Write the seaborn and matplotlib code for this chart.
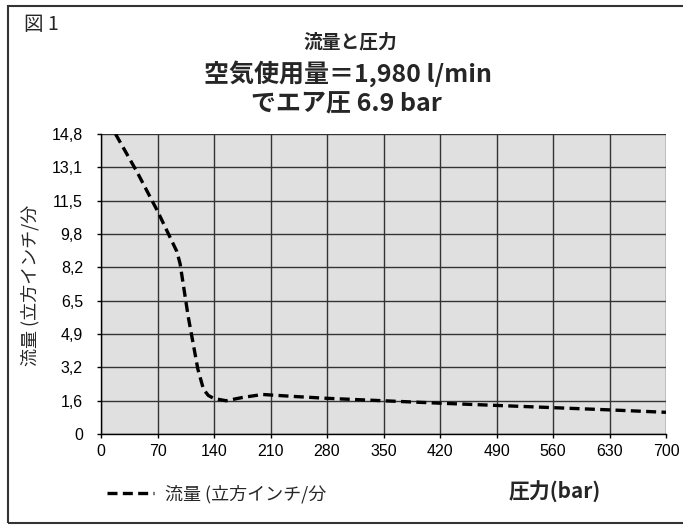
import matplotlib
matplotlib.use("Agg")
import matplotlib.pyplot as plt
import seaborn as sns
import pandas as pd
import numpy as np
from matplotlib.patches import Rectangle

# Data
pressure = [18, 45, 70, 94, 98, 108, 120, 127, 133, 140, 155, 175, 200, 240, 280, 350, 420, 490, 560, 630, 700]
flow = [14.8, 12.9, 11.0, 9.0, 8.4, 5.8, 3.2, 2.2, 1.9, 1.75, 1.64, 1.8, 1.95, 1.85, 1.76, 1.64, 1.52, 1.41, 1.30, 1.19, 1.07]
x_ticks = [0, 70, 140, 210, 280, 350, 420, 490, 560, 630, 700]
y_labels = ["0", "1,6", "3,2", "4,9", "6,5", "8,2", "9,8", "11,5", "13,1", "14,8"]
series_name = "流量 (立方インチ/分"

df = pd.DataFrame({"圧力": pressure, "流量": flow, "系列": series_name})

sns.set_theme(style="white")
plt.rcParams['font.family'] = ['Liberation Sans', 'Noto Sans CJK JP', 'DejaVu Sans']
CJK = ['Noto Sans CJK JP', 'DejaVu Sans']
DASH = (0, (3.0, 1.6))
LW = 2.4

fig = plt.figure(figsize=(6.83, 5.25), dpi=100)
ax = fig.add_axes([101/683, 1-434/525, (666-101)/683, (434-134)/525])
ax.set_facecolor("#e0e0e0")

sns.lineplot(data=df, x="圧力", y="流量", hue="系列", palette=["black"], ax=ax,
             linewidth=LW, legend=False, dashes=False, sort=False)
for ln in ax.lines:
    ln.set_linestyle(DASH)
    ln.set_dash_capstyle("butt")

ax.set_xlim(0, 700)
ax.set_ylim(0, 14.8)
ax.set_xticks(x_ticks)
ax.set_xticklabels([str(v) for v in x_ticks])
yt = [k * 14.8 / 9 for k in range(10)]
ax.set_yticks(yt)
ax.set_yticklabels(y_labels)
ax.grid(True, color="#333333", linewidth=1.0)
ax.set_axisbelow(True)
for s in ["top", "right"]:
    ax.spines[s].set_visible(False)
for s in ["left", "bottom"]:
    ax.spines[s].set_color("black")
    ax.spines[s].set_linewidth(1.0)
ax.tick_params(axis="both", which="both", length=3, width=1, color="black",
               labelsize=11.5, colors="black", direction="out", left=True, bottom=True)
ax.tick_params(axis="y", pad=10)
ax.tick_params(axis="x", pad=4)
ax.set_xlabel("")
ax.set_ylabel("")

# Frame around figure
fig.patches.append(Rectangle((8/683, 1-523/525), 1.0, (523-6)/525, transform=fig.transFigure,
                             fill=False, edgecolor="#333333", linewidth=1.5, clip_on=False))

fig.text(24/683, 1-25/525, "図 1", fontsize=14, family=CJK, va="center", ha="left")
fig.text(350/683, 1-42/525, "流量と圧力", fontsize=13.5, fontweight="bold", family=CJK, ha="center", va="center")
fig.text(348/683, 1-74/525, "空気使用量＝1,980 l/min", fontsize=18, fontweight="bold", family=CJK, ha="center", va="center")
fig.text(346/683, 1-104/525, "でエア圧 6.9 bar", fontsize=18, fontweight="bold", family=CJK, ha="center", va="center")
fig.text(30/683, 1-285/525, "流量 (立方インチ/分", fontsize=13, family=CJK, rotation=90, ha="center", va="center")
fig.text(555/683, 1-492/525, "圧力(bar)", fontsize=15, fontweight="bold", family=CJK, ha="center", va="center")

# Legend
handles = [plt.Line2D([], [], color="black", linewidth=LW, linestyle=DASH)]
leg = ax.legend(handles, [series_name], loc="center left", bbox_to_anchor=(91/683, 1-494/525),
                bbox_transform=fig.transFigure, frameon=False, handlelength=2.6, handletextpad=0.6,
                prop={"family": CJK, "size": 13})

fig.savefig("out.png", dpi=100)
